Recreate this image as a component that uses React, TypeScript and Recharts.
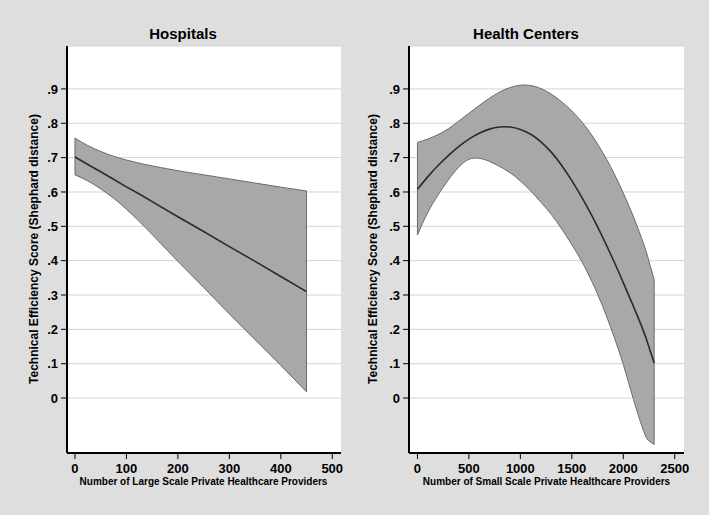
import React from 'react';
import { ComposedChart, Area, Line, XAxis, YAxis, CartesianGrid, ReferenceLine } from 'recharts';

// Hospitals: fitted efficiency vs. number of large scale private providers
const hospX = [0, 25, 50, 75, 100, 125, 150, 200, 250, 300, 350, 400, 450];
const hospFit = [0.702, 0.68, 0.659, 0.637, 0.615, 0.594, 0.572, 0.528, 0.485, 0.441, 0.398, 0.354, 0.31];
const hospLow = [0.65, 0.632, 0.609, 0.582, 0.55, 0.514, 0.476, 0.398, 0.322, 0.245, 0.17, 0.095, 0.018];
const hospHigh = [0.757, 0.735, 0.718, 0.704, 0.693, 0.684, 0.676, 0.662, 0.65, 0.638, 0.626, 0.614, 0.603];

// Health centers: fitted efficiency vs. number of small scale private providers
const hcX = [0, 100, 200, 300, 400, 500, 600, 700, 800, 900, 1000, 1100, 1200, 1300, 1400, 1500, 1600, 1700, 1800, 1900, 2000, 2100, 2200, 2250, 2300];
const hcFit = [0.608, 0.644, 0.677, 0.706, 0.732, 0.754, 0.771, 0.783, 0.789, 0.789, 0.782, 0.768, 0.746, 0.716, 0.678, 0.633, 0.583, 0.528, 0.468, 0.404, 0.336, 0.266, 0.192, 0.148, 0.102];
const hcLow = [0.475, 0.54, 0.591, 0.635, 0.672, 0.695, 0.698, 0.689, 0.674, 0.656, 0.632, 0.603, 0.57, 0.535, 0.493, 0.447, 0.396, 0.336, 0.267, 0.187, 0.098, -0.005, -0.098, -0.125, -0.135];
const hcHigh = [0.744, 0.754, 0.767, 0.784, 0.806, 0.829, 0.852, 0.873, 0.891, 0.904, 0.911, 0.91, 0.901, 0.885, 0.863, 0.836, 0.803, 0.763, 0.715, 0.66, 0.597, 0.527, 0.447, 0.398, 0.345];

const yTicks = [0, 0.1, 0.2, 0.3, 0.4, 0.5, 0.6, 0.7, 0.8, 0.9];
const hospTicks = [0, 100, 200, 300, 400, 500];
const hcTicks = [0, 500, 1000, 1500, 2000, 2500];

const FONT = '"Liberation Sans", Arial, Helvetica, sans-serif';
const BAND_FILL = '#a8a8a8';
const BAND_EDGE = '#6b6b6b';

const fmtY = (v: number) => (v === 0 ? '0' : v.toFixed(1).replace(/^0/, ''));

type PanelProps = {
  xs: number[];
  fit: number[];
  low: number[];
  high: number[];
  width: number;
  yAxisWidth: number;
  marginRight: number;
  xDomain: [number, number];
  xTicks: number[];
  lineType: 'linear' | 'natural';
};

function Panel({ xs, fit, low, high, width, yAxisWidth, marginRight, xDomain, xTicks, lineType }: PanelProps) {
  const rows = xs.map((x, i) => ({ x, fit: fit[i], band: [low[i], high[i]] }));
  const last = xs.length - 1;
  const tickStyle = { fill: '#000', fontSize: 13, fontFamily: FONT, fontWeight: 'bold' as const };

  return (
    <ComposedChart width={width} height={515} data={rows} margin={{ top: 46, right: marginRight, bottom: 32, left: 0 }}>
      <CartesianGrid vertical={false} fill="#fff" stroke="#d4d4d4" />
      <XAxis
        dataKey="x"
        type="number"
        domain={xDomain}
        ticks={xTicks}
        interval={0}
        allowDataOverflow
        height={30}
        tickSize={6}
        tickMargin={5}
        axisLine={{ stroke: '#000', strokeWidth: 2 }}
        tickLine={{ stroke: '#000' }}
        tick={tickStyle}
      />
      <YAxis
        type="number"
        domain={[-0.16, 1.025]}
        ticks={yTicks}
        interval={0}
        allowDataOverflow
        width={yAxisWidth}
        tickSize={6}
        tickMargin={3}
        tickFormatter={fmtY}
        axisLine={{ stroke: '#000', strokeWidth: 2 }}
        tickLine={{ stroke: '#000' }}
        tick={tickStyle}
      />
      <Area
        dataKey="band"
        type="natural"
        stroke={BAND_EDGE}
        strokeWidth={1}
        fill={BAND_FILL}
        fillOpacity={1}
        dot={false}
        activeDot={false}
        isAnimationActive={false}
      />
      <ReferenceLine segment={[{ x: xs[0], y: low[0] }, { x: xs[0], y: high[0] }]} stroke={BAND_EDGE} strokeWidth={1} />
      <ReferenceLine segment={[{ x: xs[last], y: low[last] }, { x: xs[last], y: high[last] }]} stroke={BAND_EDGE} strokeWidth={1} />
      <Line
        dataKey="fit"
        type={lineType}
        stroke="#2b2b2b"
        strokeWidth={1.6}
        dot={false}
        activeDot={false}
        isAnimationActive={false}
      />
    </ComposedChart>
  );
}

export default function App() {
  const yLabel = 'Technical Efficiency Score (Shephard distance)';
  return (
    <div style={{ position: 'absolute', left: 0, top: 0, width: 709, height: 515, background: '#dedede', overflow: 'hidden' }}>
      <div style={{ position: 'absolute', left: 0, top: 0 }}>
        <Panel
          xs={hospX}
          fit={hospFit}
          low={hospLow}
          high={hospHigh}
          width={354}
          yAxisWidth={67}
          marginRight={13}
          xDomain={[-15.5, 517]}
          xTicks={hospTicks}
          lineType="linear"
        />
      </div>
      <div style={{ position: 'absolute', left: 354, top: 0 }}>
        <Panel
          xs={hcX}
          fit={hcFit}
          low={hcLow}
          high={hcHigh}
          width={355}
          yAxisWidth={55}
          marginRight={25}
          xDomain={[-82, 2590]}
          xTicks={hcTicks}
          lineType="natural"
        />
      </div>
      <svg width={709} height={515} style={{ position: 'absolute', left: 0, top: 0, pointerEvents: 'none' }} fontFamily={FONT} fontWeight="bold" fill="#000">
        <text x={183} y={39} fontSize={15} textAnchor="middle">Hospitals</text>
        <text x={526} y={39} fontSize={15} textAnchor="middle">Health Centers</text>
        <text x={203.5} y={485} fontSize={10} textAnchor="middle">Number of Large Scale Private Healthcare Providers</text>
        <text x={546.5} y={485} fontSize={10} textAnchor="middle">Number of Small Scale Private Healthcare Providers</text>
        <text transform="translate(37.5,249) rotate(-90)" fontSize={12} textAnchor="middle">{yLabel}</text>
        <text transform="translate(376.5,249) rotate(-90)" fontSize={12} textAnchor="middle">{yLabel}</text>
      </svg>
    </div>
  );
}
